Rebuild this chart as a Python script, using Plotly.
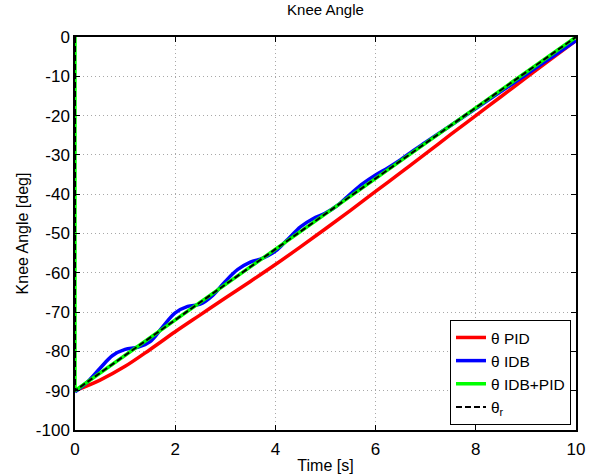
import plotly.graph_objects as go

# Reference trajectory (step to -90 at t=0, then linear ramp to 0)
t_ref = [0, 0, 10]
theta_ref = [0, -90, 0]

# IDB+PID (tracks reference closely)
t_idbpid = [0, 0, 10]
theta_idbpid = [0, -90, 0]

# PID response
t_pid = [0, 0.5, 1, 1.5, 2, 2.5, 3, 3.5, 4, 4.5, 5, 5.5, 6, 6.5, 7, 7.5, 8, 8.5, 9, 9.5, 10]
theta_pid = [-90, -87.3, -83.8, -79.5, -75.0, -70.7, -66.4, -62.2, -57.9, -53.4, -48.8,
             -44.1, -39.3, -34.5, -29.7, -24.8, -20.0, -15.2, -10.4, -5.6, -0.9]

# IDB response
t_idb = [0, 0.25, 0.5, 0.75, 1, 1.25, 1.5, 1.75, 2, 2.25, 2.5, 2.75, 3, 3.25, 3.5, 3.75,
         4, 4.25, 4.5, 4.75, 5, 5.25, 5.5, 5.75, 6, 6.25, 6.5, 6.75, 7, 7.5, 8, 8.5, 9, 9.5, 10]
theta_idb = [-90.3, -87.75, -84.3, -81.05, -79.5, -78.95, -77.5, -73.75, -70.2, -68.55,
             -68.0, -65.75, -62.2, -59.15, -57.3, -56.25, -54.5, -51.45, -48.3, -46.25,
             -44.8, -42.75, -39.9, -37.25, -35.1, -33.25, -31.2, -28.95, -26.8, -22.5,
             -18.2, -13.9, -9.6, -5.3, -0.9]

x_ticks = [0, 2, 4, 6, 8, 10]
x_tick_labels = ["0", "2", "4", "6", "8", "10"]
y_ticks = [-100, -90, -80, -70, -60, -50, -40, -30, -20, -10, 0]
y_tick_labels = ["-100", "-90", "-80", "-70", "-60", "-50", "-40", "-30", "-20", "-10", "0"]

fig = go.Figure()
fig.add_trace(go.Scatter(x=t_pid, y=theta_pid, mode="lines", name="θ PID",
                         line=dict(color="#ff0000", width=3.5, shape="spline")))
fig.add_trace(go.Scatter(x=t_idb, y=theta_idb, mode="lines", name="θ IDB",
                         line=dict(color="#0000ff", width=3.5, shape="spline")))
fig.add_trace(go.Scatter(x=t_idbpid, y=theta_idbpid, mode="lines", name="θ IDB+PID",
                         line=dict(color="#00ff00", width=3.5)))
fig.add_trace(go.Scatter(x=t_ref, y=theta_ref, mode="lines", name="θ<sub>r</sub>",
                         line=dict(color="#000000", width=2, dash="6px,3px")))

axis_common = dict(
    showline=True, linecolor="black", linewidth=1.5, mirror="ticks",
    ticks="inside", ticklen=5, tickcolor="black",
    showgrid=True, gridcolor="#a8a8a8", griddash="1px,3px", gridwidth=1,
    zeroline=False, tickfont=dict(size=17, color="black"), automargin=False,
)

fig.update_layout(
    width=595, height=474,
    margin=dict(l=75, r=19, t=37, b=44),
    paper_bgcolor="white", plot_bgcolor="white",
    font=dict(family="Liberation Sans, Arial, sans-serif", size=17, color="black"),
    title=dict(text="Knee Angle", x=0.547, xanchor="center", y=0.99, yanchor="top",
               font=dict(size=15, color="black")),
    xaxis=dict(range=[0, 10], tickvals=x_ticks, ticktext=x_tick_labels, ticklabelstandoff=3,
               title=dict(text="Time [s]", standoff=2, font=dict(size=16)), **axis_common),
    yaxis=dict(range=[-100, 0], tickvals=y_ticks, ticktext=y_tick_labels,
               title=dict(text="Knee Angle [deg]", standoff=3, font=dict(size=16)), **axis_common),
    legend=dict(x=0.99, xanchor="right", y=0.013, yanchor="bottom",
                bgcolor="white", bordercolor="black", borderwidth=1,
                font=dict(size=15.5), itemwidth=30, tracegroupgap=0),
    showlegend=True,
)

fig.write_html("out.html")
